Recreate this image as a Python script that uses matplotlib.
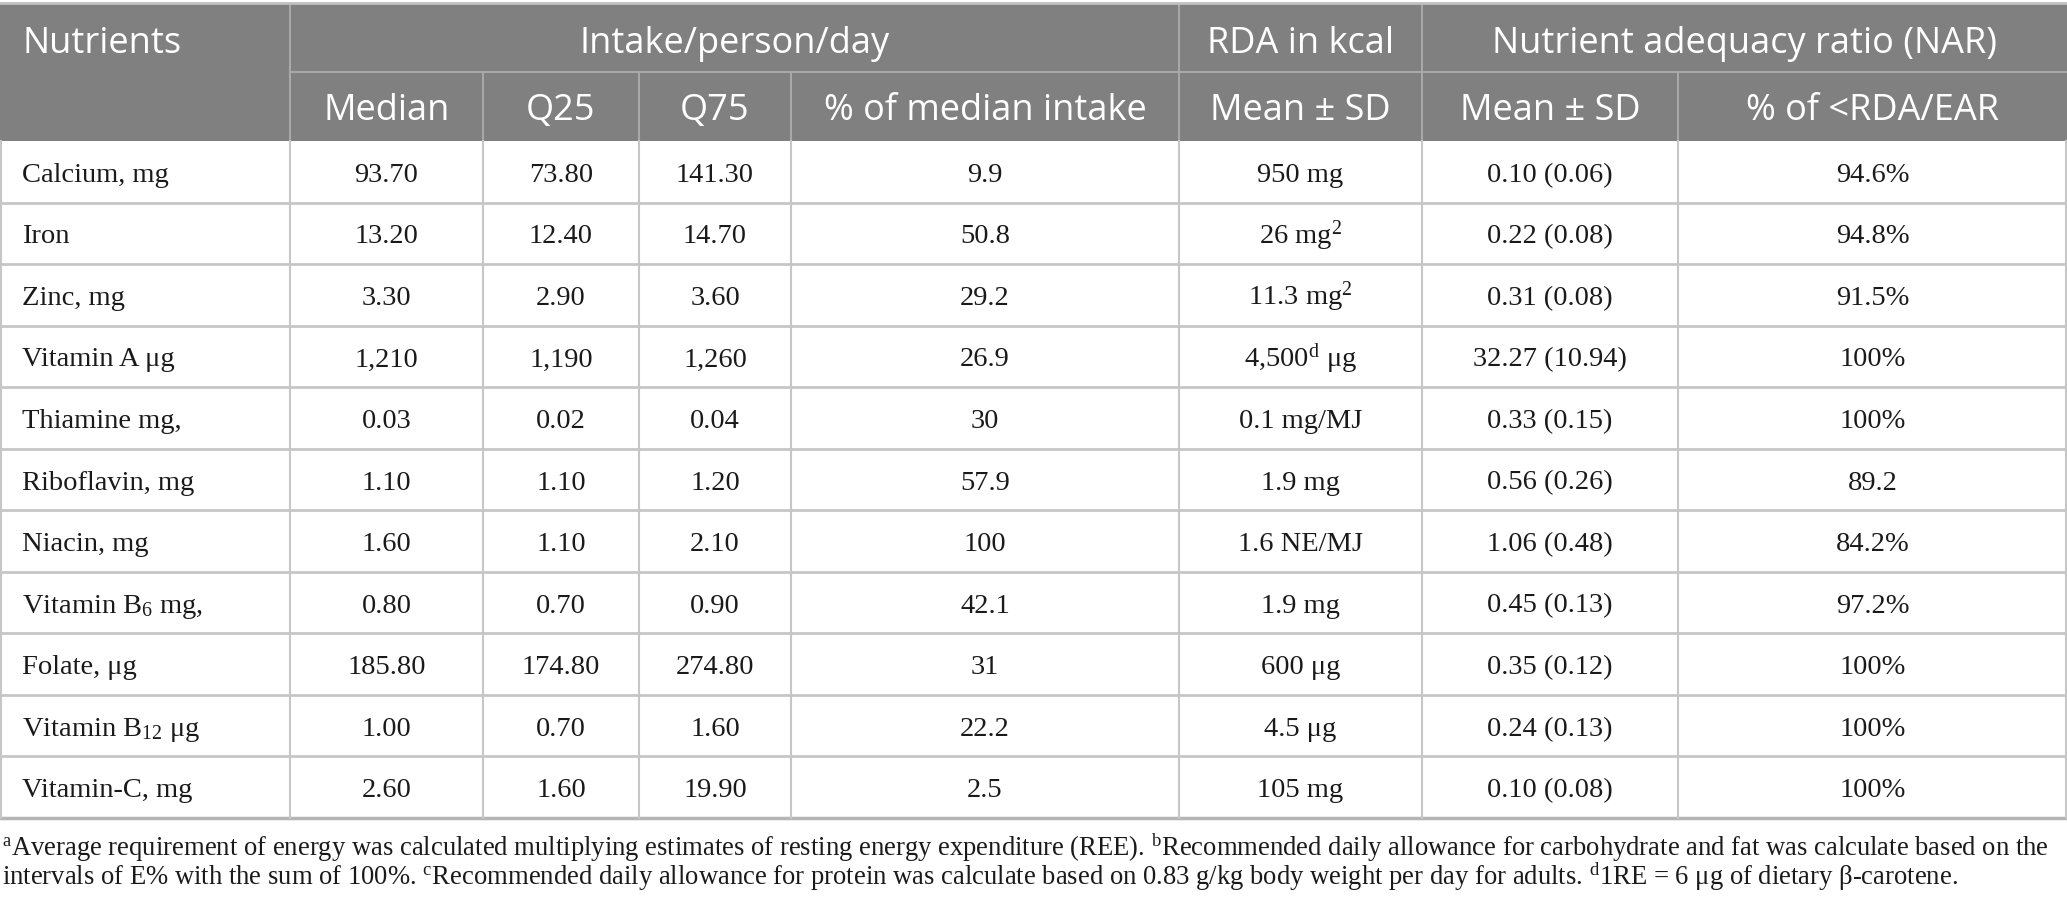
import matplotlib
matplotlib.use("Agg")
import matplotlib.pyplot as plt
from matplotlib.patches import Rectangle

plt.rcParams['mathtext.fontset'] = 'custom'
plt.rcParams['mathtext.rm'] = 'Liberation Serif'
plt.rcParams['mathtext.it'] = 'Liberation Serif:italic'
plt.rcParams['mathtext.bf'] = 'Liberation Serif:bold'

# ---------------- data ----------------
group_headers = ["Nutrients", "Intake/person/day", "RDA in kcal", "Nutrient adequacy ratio (NAR)"]
sub_headers = ["", "Median", "Q25", "Q75", "% of median intake", "Mean ± SD", "Mean ± SD", "% of <RDA/EAR"]

nutrients = ["Calcium, mg", "Iron", "Zinc, mg", "Vitamin A μg", "Thiamine mg,",
             "Riboflavin, mg", "Niacin, mg", "Vitamin B$_{6}$ mg,", "Folate, μg",
             "Vitamin B$_{12}$ μg", "Vitamin-C, mg"]
median = ["93.70", "13.20", "3.30", "1,210", "0.03", "1.10", "1.60", "0.80", "185.80", "1.00", "2.60"]
q25 = ["73.80", "12.40", "2.90", "1,190", "0.02", "1.10", "1.10", "0.70", "174.80", "0.70", "1.60"]
q75 = ["141.30", "14.70", "3.60", "1,260", "0.04", "1.20", "2.10", "0.90", "274.80", "1.60", "19.90"]
pct_median = ["9.9", "50.8", "29.2", "26.9", "30", "57.9", "100", "42.1", "31", "22.2", "2.5"]
rda = ["950 mg", "26 mg$^{2}$", "11.3 mg$^{2}$", "4,500$^{\\mathrm{d}}$ μg", "0.1 mg/MJ", "1.9 mg",
       "1.6 NE/MJ", "1.9 mg", "600 μg", "4.5 μg", "105 mg"]
nar_mean = ["0.10 (0.06)", "0.22 (0.08)", "0.31 (0.08)", "32.27 (10.94)", "0.33 (0.15)", "0.56 (0.26)",
            "1.06 (0.48)", "0.45 (0.13)", "0.35 (0.12)", "0.24 (0.13)", "0.10 (0.08)"]
pct_below = ["94.6%", "94.8%", "91.5%", "100%", "100%", "89.2", "84.2%", "97.2%", "100%", "100%", "100%"]

footnote_lines = [
    "$^{\\mathrm{a}}$Average requirement of energy was calculated multiplying estimates of resting energy "
    "expenditure (REE). $^{\\mathrm{b}}$Recommended daily allowance for carbohydrate and fat was calculate based on the",
    "intervals of E% with the sum of 100%. $^{\\mathrm{c}}$Recommended daily allowance for protein was calculate "
    "based on 0.83 g/kg body weight per day for adults. $^{\\mathrm{d}}$1RE = 6 μg of dietary β-carotene.",
]

# ---------------- layout ----------------
W, H = 2067, 910
col_edges = [0, 290, 483, 639, 791, 1179, 1422, 1678, 2067]
top = 4
h1_bottom = 72
h2_bottom = 141
table_bottom = 818
n_rows = len(nutrients)
row_h = (table_bottom - h2_bottom) / n_rows

HEADER_BG = "#808080"
HEADER_LINE = "#a8a8a8"
GRID = "#c6c6c6"
TEXT = "#1a1a1a"

serif = ['Liberation Serif', 'DejaVu Serif']
sans = ['Open Sans', 'DejaVu Sans']

fig = plt.figure(figsize=(W / 100, H / 100), dpi=100)
ax = fig.add_axes([0, 0, 1, 1])
ax.set_xlim(0, W)
ax.set_ylim(H, 0)
ax.axis('off')
fig.patch.set_facecolor('white')

# header background
ax.add_patch(Rectangle((0, top), W, h2_bottom - top, facecolor=HEADER_BG, edgecolor='none', zorder=1))
# top border
ax.plot([0, W], [top - 1, top - 1], color="#c0c0c0", lw=2, zorder=3)

# header lines
ax.plot([col_edges[1], W], [h1_bottom, h1_bottom], color=HEADER_LINE, lw=1.5, zorder=2)
for i in [1, 5, 6]:
    ax.plot([col_edges[i], col_edges[i]], [top, h2_bottom], color=HEADER_LINE, lw=1.5, zorder=2)
for i in [2, 3, 4, 7]:
    ax.plot([col_edges[i], col_edges[i]], [h1_bottom, h2_bottom], color=HEADER_LINE, lw=1.5, zorder=2)

# header text
hfs = 26
h1_base = 53
h2_base = 120
ax.text(22, h1_base, group_headers[0], color='white', fontsize=hfs, family=sans, ha='left', va='baseline', zorder=4)
spans = [(1, 5), (5, 6), (6, 8)]
for label, (a, b) in zip(group_headers[1:], spans):
    cx = (col_edges[a] + col_edges[b]) / 2
    ax.text(cx, h1_base, label, color='white', fontsize=hfs, family=sans, ha='center', va='baseline', zorder=4)
for j in range(1, 8):
    cx = (col_edges[j] + col_edges[j + 1]) / 2
    ax.text(cx, h2_base, sub_headers[j], color='white', fontsize=hfs, family=sans, ha='center', va='baseline', zorder=4)

# body grid
for r in range(1, n_rows):
    y = h2_bottom + r * row_h
    ax.plot([0, W], [y, y], color=GRID, lw=2, zorder=2)
ax.plot([0, W], [table_bottom, table_bottom], color="#b4b4b4", lw=2.5, zorder=2)
for i, x in enumerate(col_edges):
    xx = min(max(x, 0.75), W - 0.75)
    ax.plot([xx, xx], [h2_bottom, table_bottom], color=GRID, lw=1.5, zorder=2)

# body text
dfs = 20.5
columns = [median, q25, q75, pct_median, rda, nar_mean, pct_below]
for r in range(n_rows):
    cy = h2_bottom + (r + 0.5) * row_h
    base = cy + 10
    ax.text(22, base, nutrients[r], color=TEXT, fontsize=dfs, family=serif, ha='left', va='baseline', zorder=4)
    for j, col in enumerate(columns, start=1):
        cx = (col_edges[j] + col_edges[j + 1]) / 2
        ax.text(cx, base, col[r], color=TEXT, fontsize=dfs, family=serif, ha='center', va='baseline', zorder=4)

# footnotes (fit first line to width)
fig.canvas.draw()
renderer = fig.canvas.get_renderer()
probe = ax.text(2, 856, footnote_lines[0], fontsize=19, family=serif, ha='left', va='baseline')
wpx = probe.get_window_extent(renderer).width
probe.remove()
ffs = 19 * 2048 / wpx
for k, line in enumerate(footnote_lines):
    ax.text(2, 856 + 29 * k, line, color=TEXT, fontsize=ffs, family=serif, ha='left', va='baseline', zorder=4)

fig.savefig("out.png", dpi=100, facecolor='white')
